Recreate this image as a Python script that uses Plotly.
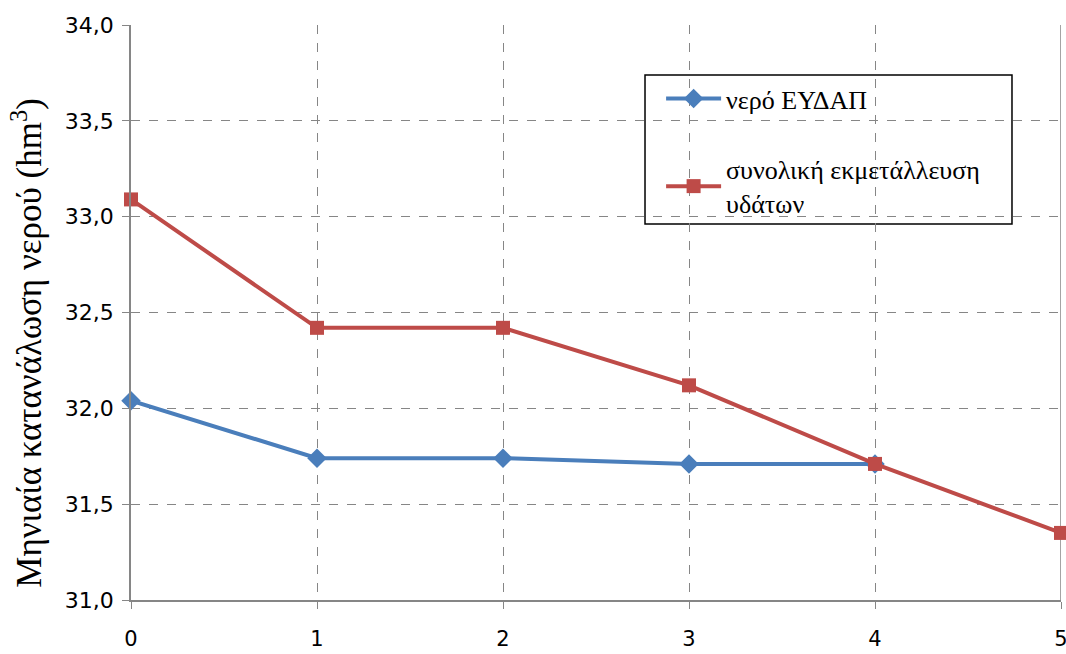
import plotly.graph_objects as go

# Monthly water consumption per scenario step
steps = [0, 1, 2, 3, 4, 5]
eydap_steps = [0, 1, 2, 3, 4]
eydap_water = [32.04, 31.74, 31.74, 31.71, 31.71]
total_use = [33.09, 32.42, 32.42, 32.12, 31.71, 31.35]

series_names = ["νερό ΕΥΔΑΠ", "συνολική εκμετάλλευση<br>υδάτων"]
y_ticks = [31.0, 31.5, 32.0, 32.5, 33.0, 33.5, 34.0]
y_tick_text = ["31,0", "31,5", "32,0", "32,5", "33,0", "33,5", "34,0"]
y_title = "Μηνιαία κατανάλωση νερού (hm<sup>3</sup>)"

BLUE = "#4A7EBB"
RED = "#BE4B48"
GRID = "#868686"

fig = go.Figure()
fig.add_trace(go.Scatter(
    x=eydap_steps, y=eydap_water, name=series_names[0], mode="lines+markers",
    line=dict(color=BLUE, width=4),
    marker=dict(symbol="diamond", size=15, color=BLUE),
    legendgroup="a", cliponaxis=False,
))
fig.add_trace(go.Scatter(
    x=steps, y=total_use, name=series_names[1], mode="lines+markers",
    line=dict(color=RED, width=4),
    marker=dict(symbol="square", size=14, color=RED),
    legendgroup="b", cliponaxis=False,
))

# solid frame line on the right edge
fig.add_shape(type="line", xref="x", yref="paper", x0=5, x1=5, y0=0, y1=1,
              line=dict(color=GRID, width=1.5), layer="below")
# legend frame
fig.add_shape(type="rect", xref="paper", yref="paper",
              x0=0.5527, x1=0.9473, y0=0.6539, y1=0.913,
              line=dict(color="black", width=1.5), fillcolor="white", layer="below")

# vertical axis title
fig.add_annotation(
    text=y_title, textangle=-90, xref="paper", yref="paper",
    x=-0.111, y=0.447, xanchor="center", yanchor="middle", showarrow=False,
    font=dict(family="Liberation Serif", size=35, color="black"),
)

fig.update_layout(
    width=1066, height=654,
    margin=dict(l=131, r=5, t=25, b=54, autoexpand=False),
    paper_bgcolor="white", plot_bgcolor="white",
    showlegend=True,
    legend=dict(
        x=0.570, y=0.913, xanchor="left", yanchor="top",
        bgcolor="rgba(0,0,0,0)", borderwidth=0,
        font=dict(family="Liberation Serif", size=26, color="black"),
        tracegroupgap=34, itemwidth=55,
    ),
    xaxis=dict(
        range=[0, 5], tickmode="array", tickvals=steps,
        ticks="outside", ticklen=7, tickcolor=GRID,
        showline=True, linecolor=GRID, linewidth=1.5,
        showgrid=True, gridcolor=GRID, griddash="dash", gridwidth=1,
        zeroline=False, ticklabeloverflow="allow", automargin=False,
        ticklabelstandoff=12,
        tickfont=dict(family="DejaVu Sans", size=21, color="black"),
    ),
    yaxis=dict(
        range=[31.0, 34.0], tickmode="array", tickvals=y_ticks, ticktext=y_tick_text,
        ticks="outside", ticklen=7, tickcolor=GRID,
        showline=True, linecolor=GRID, linewidth=1.5,
        showgrid=True, gridcolor=GRID, griddash="dash", gridwidth=1,
        zeroline=False, automargin=False, ticklabelstandoff=4,
        tickfont=dict(family="DejaVu Sans", size=22, color="black"),
    ),
)

fig.write_html("out.html")
